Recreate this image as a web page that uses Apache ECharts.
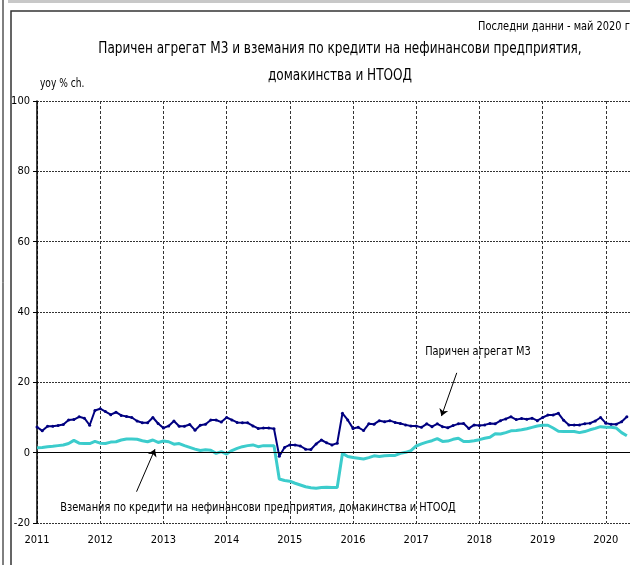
<!DOCTYPE html>
<html>
<head>
<meta charset="utf-8" />
<title>M3</title>
<style>
html,body{margin:0;padding:0;background:#fff;}
#chart{width:630px;height:565px;}
</style>
</head>
<body>
<div id="chart"></div>
<script src="https://cdn.jsdelivr.net/npm/echarts@6/dist/echarts.min.js"></script>
<script>
// monthly yoy % change, Jan 2011 - May 2020
var yearLabels = ['2011','2012','2013','2014','2015','2016','2017','2018','2019','2020'];
var m3 = [
  7.3, 6.2, 7.5, 7.5, 7.7, 8.0, 9.3, 9.4, 10.2, 9.8, 7.8, 12.0,
  12.5, 11.7, 10.8, 11.5, 10.6, 10.3, 10.0, 9.0, 8.5, 8.5, 10.0, 8.3,
  7.0, 7.6, 9.0, 7.5, 7.5, 8.0, 6.4, 7.8, 8.1, 9.3, 9.3, 8.7,
  10.0, 9.3, 8.6, 8.5, 8.5, 7.6, 6.9, 7.0, 7.0, 6.8, -1.0, 1.5,
  2.2, 2.2, 1.9, 1.0, 0.9, 2.5, 3.6, 2.8, 2.2, 2.7, 11.2, 9.3,
  6.9, 7.2, 6.3, 8.2, 8.1, 9.1, 8.8, 9.1, 8.6, 8.3, 7.9, 7.6,
  7.6, 7.2, 8.2, 7.4, 8.2, 7.4, 7.1, 7.7, 8.2, 8.3, 6.9, 7.9,
  7.7, 7.9, 8.3, 8.2, 9.1, 9.6, 10.2, 9.4, 9.7, 9.5, 9.8, 9.1,
  10.0, 10.7, 10.7, 11.2, 9.2, 7.9, 7.9, 7.9, 8.2, 8.4, 9.0, 10.0,
  8.4, 8.1, 8.1, 8.8, 10.2
];
var credit = [
  1.4, 1.5, 1.7, 1.8, 2.0, 2.2, 2.6, 3.5, 2.7, 2.6, 2.6, 3.2,
  2.7, 2.6, 3.0, 3.1, 3.6, 3.9, 3.9, 3.8, 3.4, 3.1, 3.6, 2.9,
  3.3, 3.1, 2.4, 2.6, 2.0, 1.5, 1.0, 0.6, 0.8, 0.7, -0.2, 0.3,
  -0.4, 0.6, 1.2, 1.7, 2.0, 2.2, 1.7, 2.0, 2.0, 2.0, -7.5, -7.9,
  -8.1, -8.7, -9.2, -9.7, -10.0, -10.1, -9.9, -9.8, -9.9, -9.9, -0.2, -1.1,
  -1.4, -1.6, -1.8, -1.4, -0.9, -1.1, -0.9, -0.8, -0.8, -0.2, 0.1, 0.6,
  1.9, 2.5, 3.0, 3.4, 4.0, 3.2, 3.3, 3.8, 4.1, 3.2, 3.2, 3.4,
  3.7, 4.1, 4.4, 5.4, 5.3, 5.7, 6.2, 6.3, 6.5, 6.8, 7.2, 7.6,
  7.8, 7.8, 7.0, 6.1, 6.0, 6.0, 6.0, 5.7, 6.0, 6.5, 6.9, 7.4,
  7.2, 7.2, 7.0, 5.7, 4.8
];
var titleText = 'Паричен агрегат М3 и вземания по кредити на нефинансови предприятия,\nдомакинства и НТООД';
var noteText = 'Последни данни - май 2020 г.';
var unitText = 'yoy % ch.';
var m3Label = 'Паричен агрегат М3';
var creditLabel = 'Вземания по кредити на нефинансови предприятия, домакинства и НТООД';

var FONT = "'DejaVu Sans Condensed', 'Liberation Sans', sans-serif";
var SQ = 0.84; // narrow the condensed font a bit more

function toPts(arr) {
  var out = [];
  for (var i = 0; i < arr.length; i++) out.push([i, arr[i]]);
  return out;
}

var myChart = echarts.init(document.getElementById('chart'));
var option = {
  animation: false,
  backgroundColor: '#fff',
  textStyle: { fontFamily: FONT },
  grid: { left: 37, right: -39, top: 101, bottom: 42, outerBoundsMode: 'none', containLabel: false },
  xAxis: {
    type: 'value',
    min: 0,
    max: 120,
    interval: 12,
    axisLine: { show: false },
    axisTick: { show: false },
    axisLabel: {
      margin: 12,
      color: '#000',
      fontSize: 11,
      fontFamily: FONT,
      formatter: function (v) { return yearLabels[v / 12] || ''; }
    },
    splitLine: { show: true, lineStyle: { color: '#333', type: [3, 2], width: 1 } }
  },
  yAxis: {
    type: 'value',
    min: -20,
    max: 100,
    interval: 20,
    axisLine: { show: true, lineStyle: { color: '#000', width: 1.5 } },
    axisTick: { show: true, length: 4, lineStyle: { color: '#000' } },
    axisLabel: { margin: 7, color: '#000', fontSize: 11, fontFamily: FONT },
    splitLine: { show: true, lineStyle: { color: '#333', type: [2, 1], width: 1 } }
  },
  series: [
    {
      name: creditLabel,
      type: 'line',
      data: toPts(credit),
      showSymbol: false,
      lineStyle: { color: '#3ccccc', width: 3 },
      itemStyle: { color: '#3ccccc' },
      z: 3,
      markLine: {
        silent: true,
        symbol: 'none',
        label: { show: false },
        lineStyle: { color: '#000', type: 'solid', width: 1.2 },
        data: [{ yAxis: 0 }]
      }
    },
    {
      name: m3Label,
      type: 'line',
      data: toPts(m3),
      symbol: 'circle',
      symbolSize: 3,
      lineStyle: { color: '#000080', width: 2 },
      itemStyle: { color: '#000080' },
      z: 4,
      markLine: {
        silent: true,
        symbol: ['none', 'arrow'],
        symbolSize: 7,
        label: { show: false },
        lineStyle: { color: '#000', type: 'solid', width: 1 },
        data: [
          [{ coord: [79.7, 22.7] }, { coord: [76.8, 10.4] }],
          [{ coord: [18.9, -11.1] }, { coord: [22.4, 1.0] }]
        ]
      }
    }
  ],
  graphic: [
    { type: 'line', shape: { x1: 3, y1: 0, x2: 3, y2: 565 }, style: { stroke: '#000', lineWidth: 1 } },
    { type: 'line', shape: { x1: 8, y1: 1.5, x2: 630, y2: 1.5 }, style: { stroke: '#c8c8c8', lineWidth: 3 } },
    { type: 'polyline', shape: { points: [[11, 565], [11, 11], [630, 11]] }, style: { stroke: '#333', lineWidth: 1.5, fill: null } },
    { type: 'text', x: 478, y: 27, scaleX: SQ, style: { text: noteText, font: '13px ' + FONT, fill: '#000', textVerticalAlign: 'middle' } },
    { type: 'text', x: 340, y: 62, scaleX: SQ, style: { text: titleText, font: '16px ' + FONT, fill: '#000', textAlign: 'center', textVerticalAlign: 'middle', lineHeight: 27 } },
    { type: 'text', x: 40, y: 84, scaleX: SQ, style: { text: unitText, font: '12px ' + FONT, fill: '#000', textVerticalAlign: 'middle' } },
    { type: 'text', x: 478, y: 352, scaleX: SQ, style: { text: m3Label, font: '13px ' + FONT, fill: '#000', textAlign: 'center', textVerticalAlign: 'middle' } },
    { type: 'text', x: 258, y: 508, scaleX: SQ, style: { text: creditLabel, font: '13px ' + FONT, fill: '#000', textAlign: 'center', textVerticalAlign: 'middle' } }
  ]
};
option && myChart.setOption(option);
</script>
</body>
</html>
